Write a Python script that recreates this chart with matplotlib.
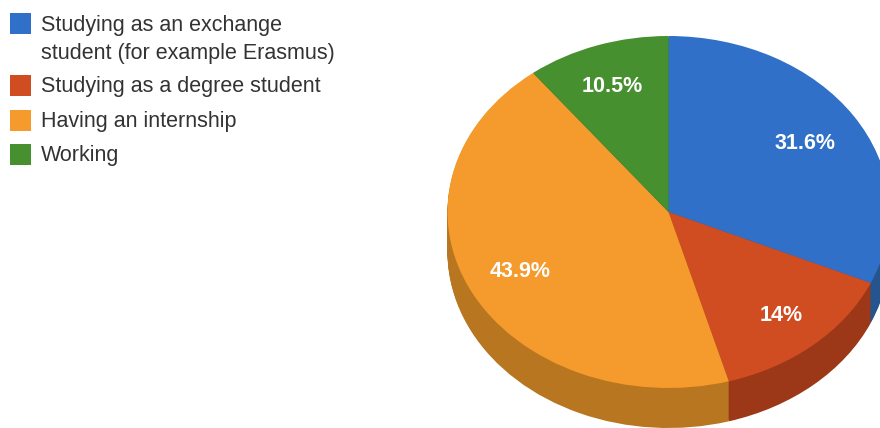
import matplotlib
matplotlib.use("Agg")
import matplotlib.pyplot as plt
from matplotlib.patches import Rectangle

# Share of respondents per activity
categories = ["Studying as an exchange\nstudent (for example Erasmus)",
              "Studying as a degree student",
              "Having an internship",
              "Working"]
values = [31.6, 14.0, 43.9, 10.5]
top_colors = ["#3070c8", "#d04d22", "#f59a2c", "#46902f"]
side_colors = ["#24558f", "#9c3718", "#b7761f", "#346c23"]

W, H = 880, 428
FONT_SIZE = 15.5
plt.rcParams["font.family"] = ["Liberation Sans", "DejaVu Sans"]
fig = plt.figure(figsize=(W / 100, H / 100), dpi=100)

# Axes spans the pie's ellipse plus its extruded rim; unit circle stretched into an ellipse
left, rx, ry, depth, top = 447.5, 221, 176, 40, 36
ax = fig.add_axes([left / W, (H - (top + 2 * ry + depth)) / H,
                   2 * rx / W, (2 * ry + depth) / H])

# Rim: stacked copies of the pie shifted downward
for i in range(depth, 0, -1):
    ax.pie(values, colors=side_colors, startangle=90, counterclock=False,
           center=(0, -i / ry), radius=1, normalize=True)

# Top face with percentage labels
wedges, _, autotexts = ax.pie(
    values, colors=top_colors, startangle=90, counterclock=False,
    radius=1, normalize=True, pctdistance=0.75,
    autopct=lambda p: f"{round(p, 1):g}%",
    textprops={"color": "white", "fontsize": FONT_SIZE, "fontweight": "bold"})

# Small pixel nudges for the percentage labels
label_nudges = [(-2, 4), (4, 4), (0, 0), (-3, -1)]
for label, (dx, dy) in zip(autotexts, label_nudges):
    x, y = label.get_position()
    label.set_position((x + dx / rx, y - dy / ry))

ax.set_aspect("auto")
ax.set_xlim(-1, 1)
ax.set_ylim(-1 - depth / ry, 1)

# Legend, placed in pixel terms on the figure
swatch_tops = [13, 75, 110, 144]
baselines = [31, 92, 127, 161]
line_step = 28
for label, color, sy, base in zip(categories, top_colors, swatch_tops, baselines):
    fig.add_artist(Rectangle((10 / W, 1 - (sy + 21) / H), 21 / W, 21 / H,
                             transform=fig.transFigure, facecolor=color, edgecolor="none"))
    for j, line in enumerate(label.split("\n")):
        fig.text(41 / W, 1 - (base + j * line_step) / H, line, fontsize=FONT_SIZE,
                 color="#333333", ha="left", va="baseline")

fig.savefig("out.png", dpi=100)
